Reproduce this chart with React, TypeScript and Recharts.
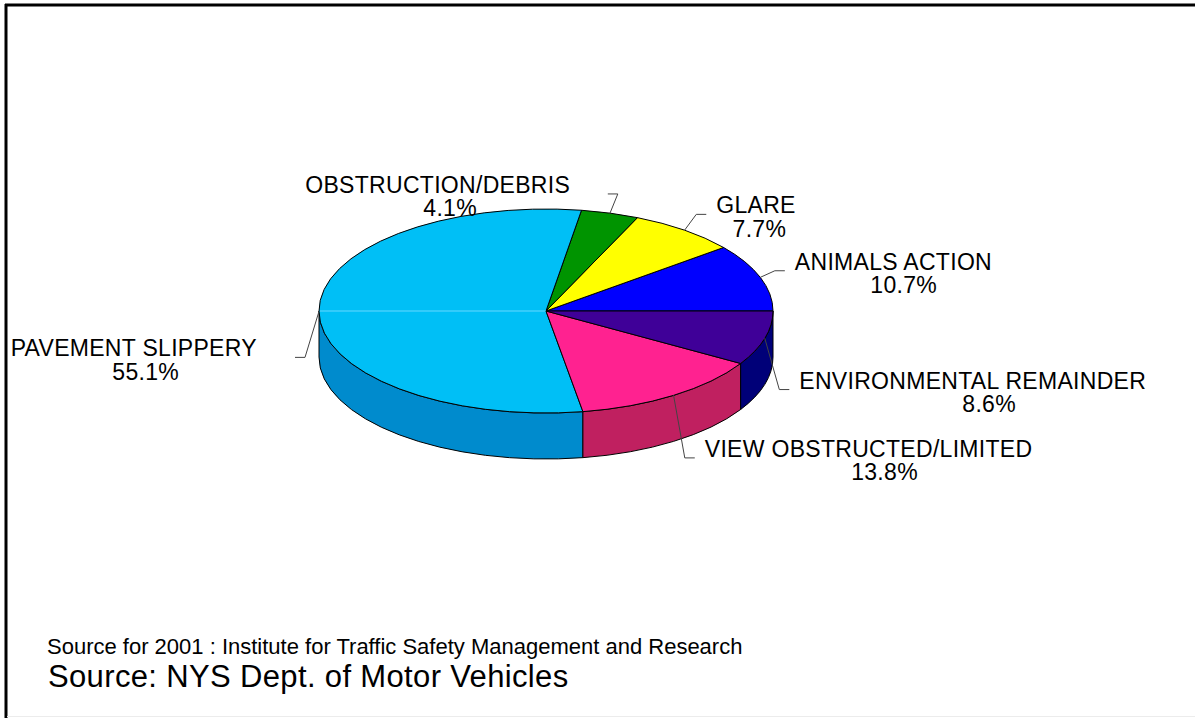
import { Pie, PieChart } from "recharts"

const CATEGORIES = [
  "ANIMALS ACTION",
  "GLARE",
  "OBSTRUCTION/DEBRIS",
  "PAVEMENT SLIPPERY",
  "VIEW OBSTRUCTED/LIMITED",
  "ENVIRONMENTAL REMAINDER",
]
const SHARES = [10.7, 7.7, 4.1, 55.1, 13.8, 8.6]
const PCT_LABELS = ["10.7%", "7.7%", "4.1%", "55.1%", "13.8%", "8.6%"]
const SOURCE_LINES = [
  "Source for 2001 : Institute for Traffic Safety Management and Research",
  "Source: NYS Dept. of Motor Vehicles",
]

const TOP_COLORS = ["#0000ff", "#ffff00", "#009400", "#00bff6", "#ff2290", "#3f0098"]
const SIDE_COLORS = ["#0000b0", "#b0b000", "#006600", "#008bcd", "#c02060", "#000078"]

const W = 1195
const H = 718
const CX = 546
const CY = 311
const RX = 227
const RY = 102
const DEPTH = 46
const FONT = '"Liberation Sans", Arial, sans-serif'
const LABEL_SIZE = 23
const LS = 0.3

const data = CATEGORIES.map((name, i) => ({
  name,
  value: SHARES[i],
  fill: TOP_COLORS[i],
  side: SIDE_COLORS[i],
  pct: PCT_LABELS[i],
}))

const rad = (d: number) => (d * Math.PI) / 180
const pt = (cx: number, cy: number, deg: number, dy = 0) =>
  `${cx + RX * Math.cos(rad(deg))},${cy - RY * Math.sin(rad(deg)) + dy}`

let ctx: CanvasRenderingContext2D | null = null
function textWidth(s: string, size: number) {
  if (!ctx) ctx = document.createElement("canvas").getContext("2d")
  if (!ctx) return s.length * size * 0.6
  ctx.font = `${size}px "Liberation Sans"`
  return ctx.measureText(s).width
}

// elliptical top face + front wall, so the pie reads as a tilted disc
function Slice3D(props: any) {
  const { cx, cy } = props
  const a = Math.min(props.startAngle, props.endAngle)
  const b = Math.max(props.startAngle, props.endAngle)
  const p = props.payload ?? props
  const large = b - a > 180 ? 1 : 0
  const top = `M${cx},${cy} L${pt(cx, cy, a)} A${RX},${RY} 0 ${large} 0 ${pt(cx, cy, b)} Z`

  const s = Math.max(a, 180)
  const e = Math.min(b, 360)
  let wall = ""
  if (s < e) {
    const l2 = e - s > 180 ? 1 : 0
    wall =
      `M${pt(cx, cy, s)} A${RX},${RY} 0 ${l2} 0 ${pt(cx, cy, e)} ` +
      `L${pt(cx, cy, e, DEPTH)} A${RX},${RY} 0 ${l2} 1 ${pt(cx, cy, s, DEPTH)} Z`
  }
  const seam = a < 180 && b > 180

  return (
    <g>
      {wall && <path d={wall} fill={p.side} stroke="#000" strokeWidth={1} strokeLinejoin="round" />}
      <path d={top} fill={p.fill} stroke="#000" strokeWidth={1} strokeLinejoin="round" />
      {seam && (
        <line x1={cx - RX + 1} y1={cy} x2={cx} y2={cy} stroke="#66d8ff" strokeWidth={1} />
      )}
    </g>
  )
}

function renderLabel(props: any) {
  const { cx, cy, midAngle } = props
  const p = props.payload ?? props
  const c = Math.cos(rad(midAngle))
  const sn = Math.sin(rad(midAngle))
  const sx = cx + RX * c
  const sy = cy - RY * sn
  const ex = cx + (RX + 14) * c + 4 * Math.abs(sn)
  const ey = cy - (RY + 20) * sn + (sn < 0 ? DEPTH : 0)
  const right = c > 0.4
  const hx = right ? ex + 10 : ex - 10

  const name: string = p.name
  const w1 = textWidth(name, LABEL_SIZE) + LS * (name.length - 1)
  const left = right ? hx + 10 : hx - 38 - w1
  const pctCenter = left + w1 / 2 + 0.7 * name.length

  return (
    <g>
      <polyline
        points={`${sx},${sy} ${ex},${ey} ${hx},${ey}`}
        fill="none"
        stroke="#444"
        strokeWidth={1}
      />
      <text
        x={left}
        y={ey - 1}
        fontSize={LABEL_SIZE}
        fontFamily={FONT}
        letterSpacing={LS}
        fill="#000"
        textAnchor="start"
      >
        {name}
      </text>
      <text
        x={pctCenter}
        y={ey + 22.5}
        fontSize={LABEL_SIZE}
        fontFamily={FONT}
        letterSpacing={LS}
        fill="#000"
        textAnchor="middle"
      >
        {p.pct}
      </text>
    </g>
  )
}

export default function App() {
  return (
    <div style={{ position: "absolute", left: 0, top: 0, width: W, height: H, background: "#fff" }}>
      <svg
        width={W}
        height={H}
        style={{ position: "absolute", left: 0, top: 0 }}
      >
        <line x1={5} y1={5} x2={W} y2={5} stroke="#000" strokeWidth={3} />
        <line x1={6} y1={4} x2={6} y2={H} stroke="#000" strokeWidth={3} />
        <line x1={7} y1={716.5} x2={W} y2={716.5} stroke="#ececec" strokeWidth={1} />
        <text x={47} y={654} fontSize={22} fontFamily={FONT} fill="#000">
          {SOURCE_LINES[0]}
        </text>
        <text x={48} y={687} fontSize={31} letterSpacing={0.35} fontFamily={FONT} fill="#000">
          {SOURCE_LINES[1]}
        </text>
      </svg>
      <div style={{ position: "absolute", left: 0, top: 0 }}>
        <PieChart width={W} height={H} margin={{ top: 0, right: 0, bottom: 0, left: 0 }}>
          <Pie
            data={data}
            dataKey="value"
            nameKey="name"
            cx={CX}
            cy={CY}
            innerRadius={0}
            outerRadius={RX}
            startAngle={0}
            endAngle={360}
            stroke="none"
            isAnimationActive={false}
            labelLine={false}
            label={renderLabel}
            shape={Slice3D}
          />
        </PieChart>
      </div>
    </div>
  )
}
